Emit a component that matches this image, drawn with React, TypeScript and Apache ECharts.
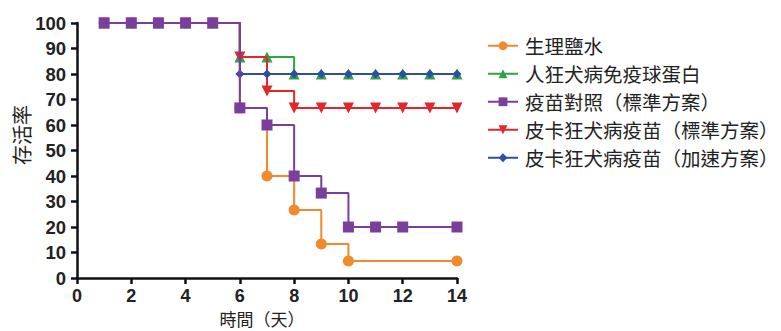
import React, { useEffect, useRef } from "react";
import * as echarts from "echarts";

const seriesNames = [
  "生理鹽水",
  "人狂犬病免疫球蛋白",
  "疫苗對照（標準方案）",
  "皮卡狂犬病疫苗（標準方案）",
  "皮卡狂犬病疫苗（加速方案）",
];

const salineX = [1, 2, 3, 4, 5, 6, 7, 8, 9, 10, 14];
const salineY = [100, 100, 100, 100, 100, 66.7, 40, 26.7, 13.3, 6.7, 6.7];

const rigX = [1, 2, 3, 4, 5, 6, 7, 8, 9, 10, 11, 12, 13, 14];
const rigY = [100, 100, 100, 100, 100, 86.7, 86.7, 80, 80, 80, 80, 80, 80, 80];

const ctrlX = [1, 2, 3, 4, 5, 6, 7, 8, 9, 10, 11, 12, 14];
const ctrlY = [100, 100, 100, 100, 100, 66.7, 60, 40, 33.3, 20, 20, 20, 20];

const stdX = [1, 2, 3, 4, 5, 6, 7, 8, 9, 10, 11, 12, 13, 14];
const stdY = [100, 100, 100, 100, 100, 86.7, 73.3, 66.7, 66.7, 66.7, 66.7, 66.7, 66.7, 66.7];

const accX = [1, 2, 3, 4, 5, 6, 7, 8, 9, 10, 11, 12, 13, 14];
const accY = [100, 100, 100, 100, 100, 80, 80, 80, 80, 80, 80, 80, 80, 80];

const colors = ["#F08A2C", "#2FA34A", "#7A3F9D", "#E2262A", "#2D4FA3"];
const symbols = ["circle", "triangle", "rect", "triangle", "diamond"];
const symbolSizes = [11, 11, 11, 11, 9];
const symbolRotates = [0, 0, 0, 180, 0];

const zip = (xs: number[], ys: number[]) => xs.map((x, i) => [x, ys[i]]);

export default function App() {
  const ref = useRef<HTMLDivElement>(null);
  useEffect(() => {
    if (!ref.current) return;
    const chart = echarts.init(ref.current, null, { renderer: "svg" });
    const datasets = [
      zip(salineX, salineY),
      zip(rigX, rigY),
      zip(ctrlX, ctrlY),
      zip(stdX, stdY),
      zip(accX, accY),
    ];
    const order = [0, 1, 3, 4, 2];
    const series = order.map((i) => ({
      name: seriesNames[i],
      type: "line" as const,
      step: "end" as const,
      data: datasets[i],
      color: colors[i],
      symbol: symbols[i],
      symbolSize: symbolSizes[i],
      symbolRotate: symbolRotates[i],
      showAllSymbol: true,
      lineStyle: { width: 2, color: colors[i] },
      itemStyle: { color: colors[i] },
      z: 2 + order.indexOf(i),
    }));
    chart.setOption({
      animation: false,
      backgroundColor: "#ffffff",
      grid: { left: 77, right: 324, top: 23, bottom: 53, containLabel: false, outerBoundsMode: "none" },
      legend: {
        data: seriesNames,
        orient: "vertical",
        left: 482,
        top: 31,
        itemWidth: 30,
        itemHeight: 11,
        itemGap: 8.5,
        textStyle: {
          fontFamily: "Noto Sans CJK TC",
          fontSize: 19.5,
          color: "#222",
          padding: [0, 0, 0, 2],
        },
      },
      xAxis: {
        type: "value",
        min: 0,
        max: 14,
        interval: 2,
        name: "時間（天）",
        nameLocation: "middle",
        nameGap: 30.5,
        nameMoveOverlap: false,
        nameTextStyle: {
          fontFamily: "Noto Sans CJK TC",
          fontSize: 17,
          lineHeight: 20,
          color: "#222",
          padding: [0, 10, 0, 0],
        },
        axisLine: { show: true, lineStyle: { color: "#111", width: 2.5 } },
        axisTick: { show: true, length: 6, lineStyle: { color: "#111", width: 2.5 } },
        axisLabel: {
          fontFamily: "Liberation Sans",
          fontWeight: "bold",
          fontSize: 18,
          lineHeight: 16,
          color: "#222",
          margin: 10,
        },
        splitLine: { show: false },
      },
      yAxis: {
        type: "value",
        min: 0,
        max: 100,
        interval: 10,
        name: "存活率",
        nameLocation: "middle",
        nameGap: 46,
        nameMoveOverlap: false,
        nameRotate: 90,
        nameTextStyle: { fontFamily: "Noto Sans CJK TC", fontSize: 20, color: "#222", padding: [0, 0, 0, 31] },
        axisLine: { show: true, lineStyle: { color: "#111", width: 2.5 } },
        axisTick: { show: true, length: 6, lineStyle: { color: "#111", width: 2.5 } },
        axisLabel: {
          fontFamily: "Liberation Sans",
          fontWeight: "bold",
          fontSize: 18.5,
          color: "#222",
          margin: 11,
        },
        splitLine: { show: false },
      },
      series,
    });
    return () => chart.dispose();
  }, []);
  return <div ref={ref} style={{ width: 781, height: 331, position: "absolute", left: 0, top: 0 }} />;
}
